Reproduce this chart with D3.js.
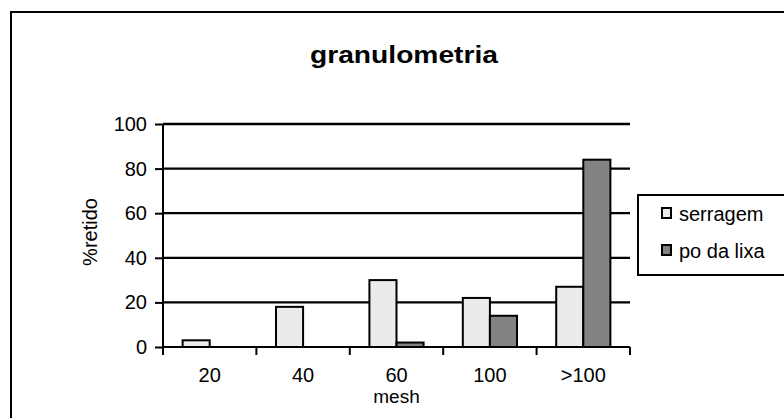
<!DOCTYPE html>
<html>
<head>
<meta charset="utf-8">
<script src="https://cdn.jsdelivr.net/npm/d3@7"></script>
<style>
  body { margin: 0; background: #fff; }
  text { font-family: "Liberation Sans", Arial, sans-serif; fill: #000; }
</style>
</head>
<body>
<svg id="chart"></svg>
<script>
const categories = ["20", "40", "60", "100", ">100"];
const seriesNames = ["serragem", "po da lixa"];
const serragem = [3, 18, 30, 22, 27];
const poDaLixa = [0, 0, 2, 14, 84];
const yTicks = [0, 20, 40, 60, 80, 100];
const colors = ["#ebebeb", "#838383"];

const width = 784;
const height = 418;
const plot = { left: 163, right: 630, top: 124, bottom: 347 };

const svg = d3.select("#chart").attr("width", width).attr("height", height);

// outer frame (runs off the right and bottom edge)
svg.append("rect")
  .attr("x", 11).attr("y", 12)
  .attr("width", 800).attr("height", 420)
  .attr("fill", "#fff")
  .attr("stroke", "#000")
  .attr("stroke-width", 2);

const x = d3.scaleBand()
  .domain(categories)
  .range([plot.left, plot.right]);

const xInner = d3.scaleBand()
  .domain(seriesNames)
  .range([x.bandwidth() * 0.21, x.bandwidth() * 0.79]);

const y = d3.scaleLinear()
  .domain([0, 100])
  .range([plot.bottom, plot.top]);

// gridlines
svg.append("g")
  .selectAll("line")
  .data(yTicks.filter(d => d > 0))
  .enter()
  .append("line")
  .attr("x1", plot.left)
  .attr("x2", plot.right)
  .attr("y1", d => y(d))
  .attr("y2", d => y(d))
  .attr("stroke", "#000")
  .attr("stroke-width", 2.3);

// bars
const rows = categories.map((c, i) => ({ cat: c, values: [serragem[i], poDaLixa[i]] }));

const groups = svg.append("g")
  .selectAll("g")
  .data(rows)
  .enter()
  .append("g")
  .attr("transform", d => `translate(${x(d.cat)},0)`);

groups.selectAll("rect")
  .data(d => d.values.map((v, k) => ({ name: seriesNames[k], value: v, k: k })))
  .enter()
  .filter(d => d.value > 0)
  .append("rect")
  .attr("x", d => xInner(d.name))
  .attr("y", d => y(d.value))
  .attr("width", xInner.bandwidth())
  .attr("height", d => y(0) - y(d.value))
  .attr("fill", d => colors[d.k])
  .attr("stroke", "#000")
  .attr("stroke-width", 2);

// y axis
const yAxis = svg.append("g")
  .attr("transform", `translate(${plot.left},0)`)
  .call(d3.axisLeft(y).tickValues(yTicks).tickSize(8).tickPadding(8));
yAxis.select(".domain").attr("stroke-width", 2).attr("d", `M-0,${plot.top}V${plot.bottom}`);
yAxis.selectAll(".tick line").attr("stroke-width", 2);
yAxis.selectAll(".tick text")
  .attr("font-size", 20)
  .attr("font-family", "Liberation Sans, Arial, sans-serif");

// x axis
const xAxis = svg.append("g")
  .attr("transform", `translate(0,${plot.bottom})`)
  .call(d3.axisBottom(x).tickSize(0).tickPadding(21));
xAxis.select(".domain").attr("stroke-width", 2).attr("d", `M${plot.left},0H${plot.right}`);
xAxis.selectAll(".tick text")
  .attr("font-size", 20)
  .attr("font-family", "Liberation Sans, Arial, sans-serif");

// category separators
svg.append("g")
  .selectAll("line")
  .data(categories.concat(["end"]))
  .enter()
  .append("line")
  .attr("x1", (d, i) => plot.left + i * x.bandwidth())
  .attr("x2", (d, i) => plot.left + i * x.bandwidth())
  .attr("y1", plot.bottom)
  .attr("y2", plot.bottom + 8)
  .attr("stroke", "#000")
  .attr("stroke-width", 2);

// title
svg.append("text")
  .attr("x", 404)
  .attr("y", 63)
  .attr("text-anchor", "middle")
  .attr("font-size", 23)
  .attr("font-weight", "bold")
  .attr("textLength", 188)
  .attr("lengthAdjust", "spacingAndGlyphs")
  .text("granulometria");

// axis labels
svg.append("text")
  .attr("x", (plot.left + plot.right) / 2)
  .attr("y", 403)
  .attr("text-anchor", "middle")
  .attr("font-size", 19)
  .text("mesh");

svg.append("text")
  .attr("transform", "translate(97,232) rotate(-90)")
  .attr("text-anchor", "middle")
  .attr("font-size", 20)
  .text("%retido");

// legend
const legend = svg.append("g").attr("transform", "translate(638,195)");
legend.append("rect")
  .attr("width", 160).attr("height", 80)
  .attr("fill", "#fff")
  .attr("stroke", "#000")
  .attr("stroke-width", 2);

const items = legend.selectAll("g.item")
  .data(seriesNames)
  .enter()
  .append("g")
  .attr("class", "item")
  .attr("transform", (d, i) => `translate(24,${26 + i * 37})`);

items.append("rect")
  .attr("x", 0).attr("y", -13)
  .attr("width", 9).attr("height", 10)
  .attr("fill", (d, i) => colors[i])
  .attr("stroke", "#000")
  .attr("stroke-width", 2);

items.append("text")
  .attr("x", 17)
  .attr("y", 0)
  .attr("font-size", 20)
  .text(d => d);
</script>
</body>
</html>
